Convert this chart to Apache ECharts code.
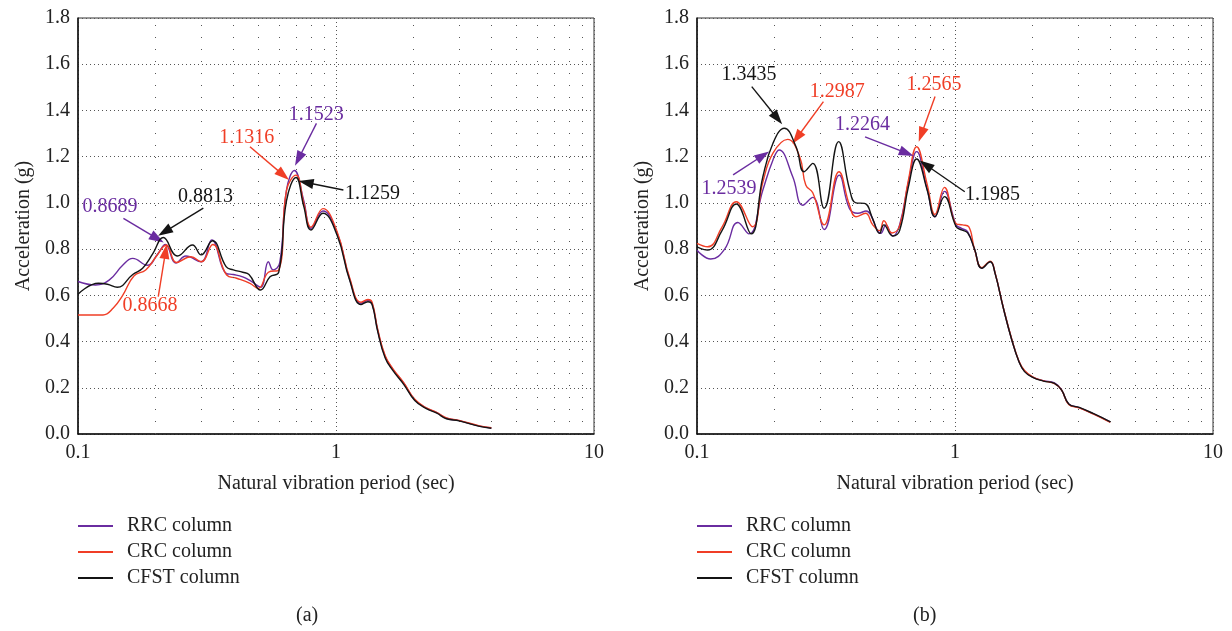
<!DOCTYPE html>
<html><head><meta charset="utf-8">
<script src="https://cdn.jsdelivr.net/npm/echarts@6/dist/echarts.min.js"></script>
<style>html,body{margin:0;padding:0;background:#fff}#c{width:1232px;height:631px}</style>
</head><body><div id="c"></div>
<script>
// ---------- data ----------
const seriesNames = ['RRC column', 'CRC column', 'CFST column'];
const seriesColors = ['#6a2ca0', '#f03e26', '#141414'];

// panel (a): [period (s), acceleration (g)]
const aRRC = [[0.1,0.66],[0.117,0.645],[0.132,0.666],[0.149,0.73],[0.163,0.76],[0.186,0.73],[0.204,0.78],[0.218,0.82],[0.24,0.74],[0.262,0.77],[0.30,0.745],[0.33,0.84],[0.375,0.695],[0.40,0.69],[0.435,0.68],[0.47,0.66],[0.51,0.635],[0.547,0.745],[0.57,0.71],[0.605,0.74],[0.643,1.055],[0.69,1.14],[0.75,1.01],[0.80,0.89],[0.89,0.965],[1.01,0.87],[1.13,0.67],[1.25,0.565],[1.33,0.578],[1.38,0.565],[1.45,0.45],[1.55,0.335],[1.66,0.28],[1.83,0.22],[2.02,0.148],[2.24,0.112],[2.46,0.092],[2.68,0.068],[3.0,0.058],[3.6,0.034],[4.0,0.026]];
const aCRC = [[0.1,0.515],[0.125,0.515],[0.137,0.545],[0.149,0.60],[0.165,0.685],[0.183,0.71],[0.20,0.765],[0.22,0.818],[0.241,0.742],[0.274,0.767],[0.30,0.745],[0.333,0.82],[0.377,0.688],[0.412,0.674],[0.464,0.652],[0.50,0.63],[0.547,0.70],[0.60,0.71],[0.643,1.055],[0.70,1.12],[0.75,1.0],[0.80,0.895],[0.89,0.975],[1.01,0.875],[1.13,0.675],[1.25,0.57],[1.33,0.582],[1.38,0.57],[1.45,0.455],[1.55,0.34],[1.66,0.283],[1.83,0.222],[2.02,0.15],[2.24,0.113],[2.46,0.093],[2.68,0.07],[3.0,0.059],[3.6,0.035],[4.0,0.027]];
const aCFST = [[0.1,0.605],[0.12,0.652],[0.13,0.648],[0.142,0.635],[0.163,0.69],[0.178,0.717],[0.195,0.78],[0.214,0.85],[0.243,0.77],[0.278,0.818],[0.30,0.775],[0.332,0.836],[0.375,0.724],[0.40,0.71],[0.435,0.70],[0.46,0.69],[0.51,0.623],[0.555,0.68],[0.60,0.70],[0.643,1.01],[0.70,1.11],[0.75,0.985],[0.80,0.883],[0.89,0.955],[1.01,0.86],[1.13,0.665],[1.25,0.56],[1.33,0.572],[1.38,0.56],[1.45,0.445],[1.55,0.33],[1.66,0.275],[1.83,0.215],[2.02,0.145],[2.24,0.11],[2.46,0.09],[2.68,0.066],[3.0,0.057],[3.6,0.033],[4.0,0.025]];

// panel (b)
const bRRC = [[0.1,0.795],[0.113,0.757],[0.128,0.80],[0.144,0.915],[0.159,0.866],[0.18,1.056],[0.197,1.186],[0.208,1.229],[0.235,1.113],[0.257,0.99],[0.281,1.024],[0.311,0.885],[0.356,1.12],[0.39,0.975],[0.42,0.955],[0.452,0.965],[0.516,0.868],[0.54,0.905],[0.574,0.857],[0.61,0.905],[0.66,1.09],[0.71,1.222],[0.78,1.06],[0.836,0.94],[0.91,1.05],[1.01,0.905],[1.06,0.89],[1.12,0.875],[1.19,0.80],[1.27,0.717],[1.37,0.746],[1.43,0.696],[1.54,0.545],[1.66,0.408],[1.77,0.314],[1.86,0.272],[2.0,0.246],[2.2,0.231],[2.43,0.221],[2.59,0.19],[2.76,0.13],[3.03,0.114],[3.43,0.088],[4.0,0.052]];
const bCRC = [[0.1,0.825],[0.11,0.81],[0.125,0.895],[0.142,1.005],[0.164,0.897],[0.18,1.09],[0.197,1.215],[0.2245,1.275],[0.25,1.2],[0.264,1.077],[0.281,1.044],[0.311,0.905],[0.355,1.135],[0.39,0.99],[0.413,0.94],[0.45,0.955],[0.48,0.905],[0.51,0.88],[0.53,0.923],[0.57,0.87],[0.61,0.90],[0.66,1.10],[0.71,1.243],[0.78,1.08],[0.836,0.95],[0.91,1.067],[1.01,0.91],[1.07,0.905],[1.13,0.897],[1.19,0.80],[1.27,0.72],[1.37,0.748],[1.43,0.697],[1.54,0.546],[1.66,0.41],[1.77,0.315],[1.86,0.275],[2.0,0.247],[2.2,0.23],[2.43,0.218],[2.59,0.19],[2.76,0.128],[3.03,0.113],[3.43,0.087],[4.0,0.05]];
const bCFST = [[0.1,0.81],[0.11,0.796],[0.125,0.88],[0.142,0.995],[0.162,0.866],[0.18,1.113],[0.197,1.258],[0.218,1.323],[0.242,1.243],[0.26,1.135],[0.281,1.171],[0.311,0.977],[0.354,1.265],[0.39,1.06],[0.413,1.0],[0.446,0.998],[0.48,0.93],[0.51,0.868],[0.53,0.905],[0.574,0.857],[0.61,0.88],[0.66,1.07],[0.71,1.19],[0.78,1.056],[0.836,0.94],[0.91,1.027],[1.01,0.897],[1.06,0.883],[1.12,0.87],[1.19,0.80],[1.27,0.717],[1.37,0.745],[1.43,0.695],[1.54,0.544],[1.66,0.407],[1.77,0.313],[1.86,0.27],[2.0,0.245],[2.2,0.229],[2.43,0.219],[2.59,0.19],[2.76,0.13],[3.03,0.115],[3.43,0.089],[4.0,0.053]];

// minor log grid positions
const minorPeriods = [0.2,0.3,0.4,0.5,0.6,0.7,0.8,0.9,2,3,4,5,6,7,8,9];

// annotations (series index: 0 RRC, 1 CRC, 2 CFST)
const annoAText   = ['0.8689','0.8813','0.8668','1.1316','1.1523','1.1259'];
const annoASeries = [0, 2, 1, 1, 0, 2];
const annoALabel  = [[0.133,0.984],[0.312,1.026],[0.190,0.554],[0.451,1.28],[0.838,1.380],[1.386,1.041]];
const annoAFrom   = [[0.150,0.933],[0.306,0.977],[0.2047,0.594],[0.464,1.243],[0.84,1.344],[1.068,1.056]];
const annoATo     = [[0.203,0.845],[0.2165,0.875],[0.2185,0.79],[0.625,1.12],[0.715,1.19],[0.765,1.088]];

const annoBText   = ['1.3435','1.2987','1.2539','1.2565','1.2264','1.1985'];
const annoBSeries = [2, 1, 0, 1, 0, 2];
const annoBLabel  = [[0.159,1.554],[0.350,1.481],[0.133,1.063],[0.830,1.510],[0.438,1.337],[1.397,1.034]];
const annoBFrom   = [[0.163,1.503],[0.309,1.438],[0.138,1.121],[0.837,1.46],[0.448,1.286],[1.091,1.048]];
const annoBTo     = [[0.205,1.365],[0.244,1.282],[0.18,1.205],[0.74,1.295],[0.65,1.215],[0.77,1.165]];

// ---------- chart ----------
const FONT = "'Liberation Serif','DejaVu Serif',serif";
const chart = echarts.init(document.getElementById('c'), null, {renderer: 'canvas'});

const gridDefs = [{left: 78}, {left: 697}];
const panels = [
  {curves: [aRRC, aCRC, aCFST], text: annoAText, ser: annoASeries, lab: annoALabel, from: annoAFrom, to: annoATo},
  {curves: [bRRC, bCRC, bCFST], text: annoBText, ser: annoBSeries, lab: annoBLabel, from: annoBFrom, to: annoBTo}
];

const grid = gridDefs.map(g => ({left: g.left, top: 18, width: 516, height: 416, show: true, borderColor: '#333', borderWidth: 1, backgroundColor: 'transparent'}));

const xAxis = gridDefs.map((g, i) => ({
  type: 'log', logBase: 10, min: 0.1, max: 10, gridIndex: i,
  name: 'Natural vibration period (sec)', nameLocation: 'middle', nameGap: 40,
  nameTextStyle: {fontFamily: FONT, fontSize: 20, color: '#222'},
  axisLine: {show: true, lineStyle: {color: '#111', width: 1.5}},
  axisTick: {show: false},
  axisLabel: {fontFamily: FONT, fontSize: 20, color: '#222', margin: 9, formatter: v => String(+Number(v).toPrecision(3))},
  splitLine: {show: true, lineStyle: {color: '#555', width: 1, type: [1, 3]}}
}));

const yAxis = gridDefs.map((g, i) => ({
  type: 'value', min: 0, max: 1.8, interval: 0.2, gridIndex: i,
  name: 'Acceleration (g)', nameLocation: 'middle', nameGap: 44, nameRotate: 90,
  nameTextStyle: {fontFamily: FONT, fontSize: 20, color: '#222'},
  axisLine: {show: true, lineStyle: {color: '#111', width: 1.5}},
  axisTick: {show: false},
  axisLabel: {fontFamily: FONT, fontSize: 20, color: '#222', margin: 8, formatter: v => v.toFixed(1)},
  splitLine: {show: true, lineStyle: {color: '#555', width: 1, type: [1, 3]}}
}));

const series = [];
panels.forEach((p, i) => {
  // minor vertical grid lines
  series.push({
    type: 'line', xAxisIndex: i, yAxisIndex: i, data: [[0.1, 0]], showSymbol: false, silent: true, z: 1,
    lineStyle: {opacity: 0},
    markLine: {
      silent: true, symbol: 'none', animation: false, label: {show: false},
      lineStyle: {color: '#555', width: 1, type: [1, 11]},
      data: minorPeriods.map(v => ({xAxis: v}))
    }
  });
  p.curves.forEach((d, k) => {
    series.push({
      name: seriesNames[k], type: 'line', xAxisIndex: i, yAxisIndex: i, data: d,
      smooth: 0.45, showSymbol: false, symbol: 'none', z: 3 + k,
      lineStyle: {color: seriesColors[k], width: 1.4},
      itemStyle: {color: seriesColors[k]},
      emphasis: {disabled: true}, animation: false
    });
  });
  series.push({
    type: 'scatter', xAxisIndex: i, yAxisIndex: i, silent: true, z: 10,
    symbolSize: 0.01, itemStyle: {opacity: 1},
    emphasis: {disabled: true},
    label: {show: true, position: 'inside', formatter: '{b}', fontFamily: FONT, fontSize: 20, opacity: 1,
            textBorderWidth: 0, textShadowBlur: 0},
    data: p.text.map((t, j) => ({name: t, value: p.lab[j],
      itemStyle: {color: seriesColors[p.ser[j]]},
      label: {color: seriesColors[p.ser[j]]}})),
    markLine: {
      silent: true, animation: false, symbol: ['none', 'triangle'], symbolSize: [10, 15], label: {show: false},
      data: p.from.map((f, j) => [
        {coord: f, lineStyle: {color: seriesColors[p.ser[j]], width: 1.4, type: 'solid'}},
        {coord: p.to[j]}
      ])
    },
    animation: false
  });
});

const legend = gridDefs.map(g => ({
  data: seriesNames, orient: 'vertical', left: g.left, top: 516, padding: 0, icon: 'rect',
  itemWidth: 35, itemHeight: 2, itemGap: 6, selectedMode: false,
  textStyle: {fontFamily: FONT, fontSize: 20, color: '#222', lineHeight: 20, padding: [0, 0, 0, 9]}
}));

const title = [
  {text: '(a)', left: 296, top: 606, padding: 0, textStyle: {fontFamily: FONT, fontSize: 20, fontWeight: 'normal', color: '#222'}},
  {text: '(b)', left: 913, top: 606, padding: 0, textStyle: {fontFamily: FONT, fontSize: 20, fontWeight: 'normal', color: '#222'}}
];

chart.setOption({animation: false, backgroundColor: '#fff', title, legend, grid, xAxis, yAxis, series});
</script></body></html>
